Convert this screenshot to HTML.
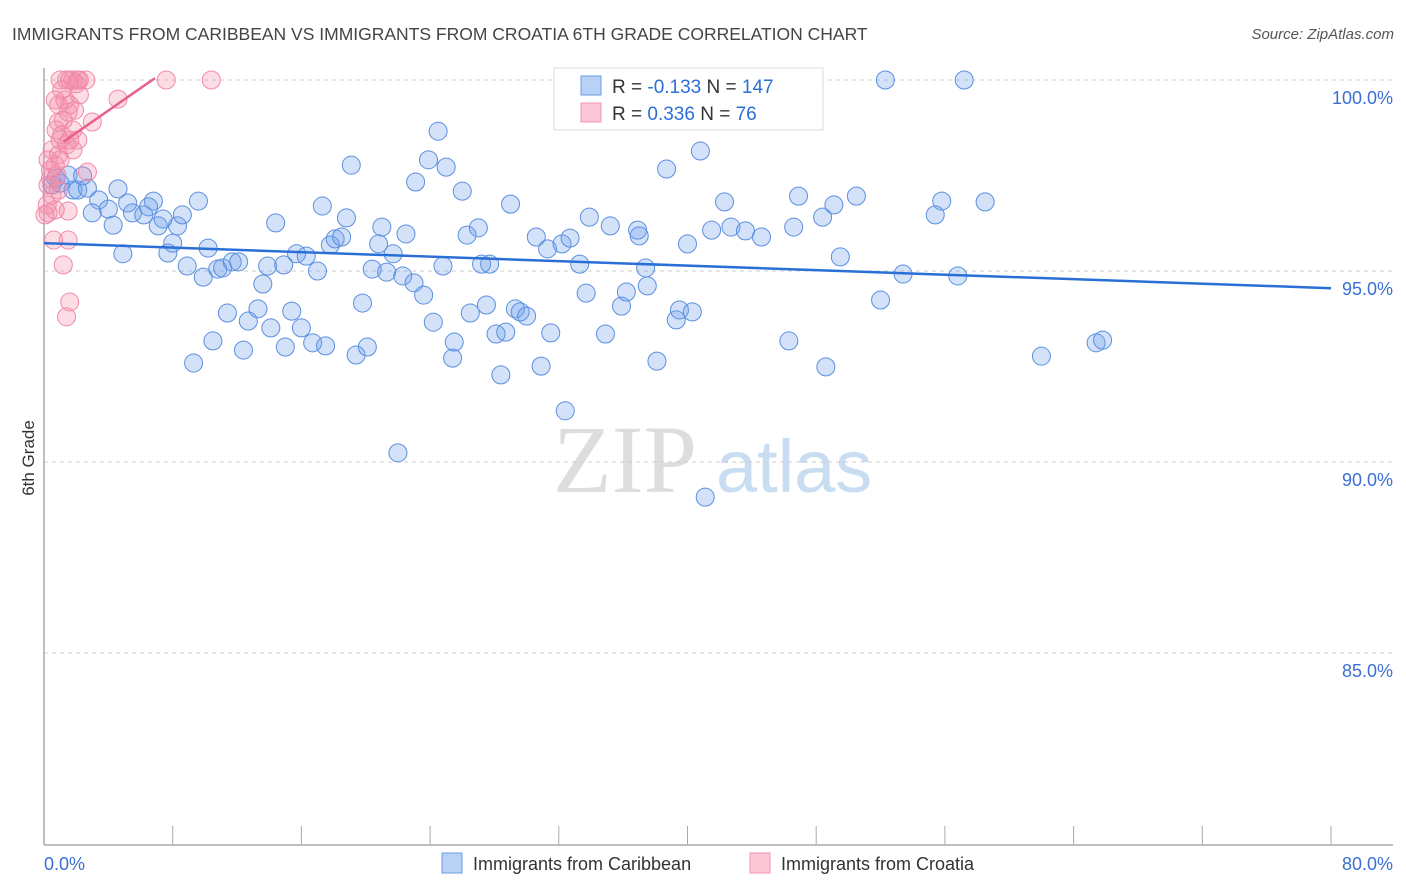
<!DOCTYPE html>
<html><head><meta charset="utf-8"><style>
body{margin:0;background:#fff;font-family:"Liberation Sans",sans-serif;}
svg{display:block}
</style></head><body>
<svg id="chart" width="1406" height="892" xmlns="http://www.w3.org/2000/svg">
<text x="12" y="40" font-size="17.5" fill="#444">IMMIGRANTS FROM CARIBBEAN VS IMMIGRANTS FROM CROATIA 6TH GRADE CORRELATION CHART</text>
<text x="1394" y="39" font-size="15" fill="#555" font-style="italic" text-anchor="end">Source: ZipAtlas.com</text>
<text x="0" y="0" transform="translate(34,458) rotate(-90)" font-size="17" fill="#333" text-anchor="middle">6th Grade</text>
<g><text x="553" y="492" font-size="96" fill="#ddd" font-family="Liberation Serif,serif">ZIP</text><text x="716" y="492" font-size="74" fill="#c8dcf2">atlas</text></g>
<g id="grid"></g><g id="axes"></g><g id="pts"></g><g id="trends"></g>
<g>
<rect x="554" y="68" width="269" height="62" fill="#fff" stroke="#ddd"/>
<rect x="581" y="76" width="20" height="19" fill="#b8d2f6" stroke="#6b9be6"/>
<rect x="581" y="103" width="20" height="19" fill="#fcc8d8" stroke="#f095b2"/>
<text x="612" y="93" font-size="19" fill="#333">R = <tspan fill="#2a6fd6">-0.133</tspan>   N = <tspan fill="#2a6fd6">147</tspan></text>
<text x="612" y="120" font-size="19" fill="#333">R =  <tspan fill="#2a6fd6">0.336</tspan>   N =   <tspan fill="#2a6fd6">76</tspan></text>
</g>
<g>
<rect x="442" y="853" width="20" height="20" fill="#b8d2f6" stroke="#6b9be6"/>
<text x="473" y="870" font-size="18" fill="#333">Immigrants from Caribbean</text>
<rect x="750" y="853" width="20" height="20" fill="#fcc8d8" stroke="#f095b2"/>
<text x="781" y="870" font-size="18" fill="#333">Immigrants from Croatia</text>
</g>
</svg>
<script>
const blueX=[0.5,0.75,1.0,1.5,1.8,2.1,2.7,2.4,4.6,5.2,6.8,3.4,3.0,4.0,4.3,5.5,6.2,6.5,7.4,7.1,8.3,8.6,8.0,9.6,4.9,7.7,8.9,9.9,10.2,10.8,11.1,11.7,12.1,13.6,13.9,14.9,14.4,11.4,10.5,9.3,12.4,12.7,13.3,14.1,15.4,15.0,16.0,15.7,17.0,16.3,16.7,17.5,17.8,18.1,18.5,18.8,17.3,19.1,19.4,19.8,20.1,20.4,20.8,21.0,21.3,21.7,22.0,22.3,22.5,23.0,23.1,23.6,23.9,24.2,24.5,24.8,25.0,25.4,25.5,26.0,26.3,26.5,27.0,27.2,27.5,27.7,28.1,28.4,28.7,29.0,29.3,29.6,30.0,30.6,30.9,31.3,31.5,32.2,32.4,32.7,33.3,33.7,33.9,34.9,35.2,35.9,36.2,36.9,37.0,37.4,37.5,38.1,38.7,39.3,39.5,40.0,40.3,40.8,41.1,41.5,42.3,42.7,43.6,44.6,46.3,46.6,46.9,48.4,48.6,49.1,49.5,50.5,52.0,52.3,53.4,55.4,55.8,56.8,57.2,58.5,62.0,65.4,65.8];
const blueY=[97.25,97.43,97.30,97.51,97.12,97.12,97.17,97.49,97.15,96.78,96.83,96.86,96.52,96.62,96.20,96.52,96.47,96.68,96.36,96.18,96.18,96.47,95.73,96.83,95.45,95.47,95.13,94.84,95.60,95.05,95.08,95.24,95.24,94.66,95.13,95.16,96.26,93.90,93.17,92.59,92.93,93.69,94.01,93.51,93.95,93.01,93.51,95.45,95.00,95.39,93.12,93.04,95.68,95.84,95.89,96.39,96.70,97.77,92.80,94.16,93.01,95.05,95.71,96.15,94.97,95.45,90.24,94.87,95.97,94.69,97.33,94.37,97.91,93.66,98.66,95.13,97.72,92.72,93.14,97.09,95.94,93.90,96.13,95.18,94.11,95.18,93.35,92.28,93.40,96.75,94.01,93.93,93.82,95.89,92.51,95.58,93.38,95.71,91.34,95.86,95.18,94.42,96.41,93.35,96.18,94.08,94.45,96.07,95.92,95.08,94.61,92.64,97.67,93.72,93.98,95.71,93.93,98.14,89.08,96.07,96.81,96.15,96.05,95.89,93.17,96.15,96.96,96.41,92.49,96.73,95.37,96.96,94.24,100.0,94.92,96.47,96.83,94.87,100.0,96.81,92.77,93.12,93.19];
const pinkX=[1.0,1.4,1.6,1.8,2.1,2.2,2.6,2.0,7.6,10.4,4.6,3.0,1.1,1.3,1.6,0.9,1.5,1.2,1.8,0.75,1.0,1.4,0.5,0.9,0.25,0.7,0.4,1.1,1.6,2.1,1.8,0.4,0.25,0.5,0.2,0.25,0.7,1.5,2.7,0.9,0.6,1.5,1.2,1.6,1.4,0.8,0.06,1.0,1.9,2.2,0.7,0.9];
const pinkY=[100,100,100,100,100,100,100,99.9,100,100,99.5,98.9,99.74,99.48,99.35,99.35,99.16,98.95,98.69,98.69,98.43,98.30,98.17,98.04,97.91,97.77,97.64,98.56,98.43,98.43,98.17,97.43,97.25,96.99,96.73,96.52,96.60,96.57,97.59,97.12,95.81,95.81,95.16,94.19,93.80,97.51,96.47,97.91,99.21,99.61,99.48,98.90];
const xTicks=[0,8,16,24,32,40,48,56,64,72,80];
const yTicks=[100,95,90,85];
const yTickLabels=["100.0%","95.0%","90.0%","85.0%"];
const blueTrend=[95.73,94.55]; // y at x=0 and x=80
const pinkTrend=[[1.2,98.38],[6.9,100.05]];
const X=v=>44+v*(1287/80), Y=v=>80+(100-v)*38.2;
const NS="http://www.w3.org/2000/svg";
function mk(p,t,a){const e=document.createElementNS(NS,t);for(const k in a)e.setAttribute(k,a[k]);p.appendChild(e);return e;}
const grid=document.getElementById('grid'),axes=document.getElementById('axes'),pts=document.getElementById('pts'),tr=document.getElementById('trends');
yTicks.forEach((t,i)=>{
 const l=mk(grid,'line',{x1:44,x2:1393,y1:Y(t),y2:Y(t),stroke:'#ccc','stroke-dasharray':'4,4'});
 
 
 const tx=mk(grid,'text',{x:1393,y:Y(t)+24,'font-size':18,fill:'#3b6fd4','text-anchor':'end'});
 tx.textContent=yTickLabels[i];
 
 
});
const ax=mk(axes,'line',{x1:44,x2:1393,y1:845,y2:845,stroke:'#aaa','stroke-width':1.5});


const ay=mk(axes,'line',{x1:44,x2:44,y1:68,y2:845,stroke:'#aaa','stroke-width':1.5});


xTicks.forEach(t=>{const l=mk(axes,'line',{x1:X(t),x2:X(t),y1:826,y2:845,stroke:'#aaa'});
 
 });
[[0,'0.0%','start',44],[80,'80.0%','end',1393]].forEach(d=>{const t=mk(axes,'text',{x:d[3],y:870,'font-size':18,fill:'#3b6fd4','text-anchor':d[2]});t.textContent=d[1];
 
 });
blueX.forEach((v,i)=>{const c=mk(pts,'circle',{cx:X(v),cy:Y(blueY[i]),r:9,fill:'rgba(110,160,235,0.3)',stroke:'#5b8fe0','stroke-width':1});
 
 });
pinkX.forEach((v,i)=>{const c=mk(pts,'circle',{cx:X(v),cy:Y(pinkY[i]),r:9,fill:'rgba(245,140,170,0.3)',stroke:'#f08aa8','stroke-width':1});
 
 });
const bl=mk(tr,'line',{x1:X(0),y1:Y(blueTrend[0]),x2:X(80),y2:Y(blueTrend[1]),stroke:'#2a6fd6','stroke-width':2.5});


const pl=mk(tr,'line',{x1:X(pinkTrend[0][0]),y1:Y(pinkTrend[0][1]),x2:X(pinkTrend[1][0]),y2:Y(pinkTrend[1][1]),stroke:'#e8608a','stroke-width':2.5});


</script>
</body></html>
